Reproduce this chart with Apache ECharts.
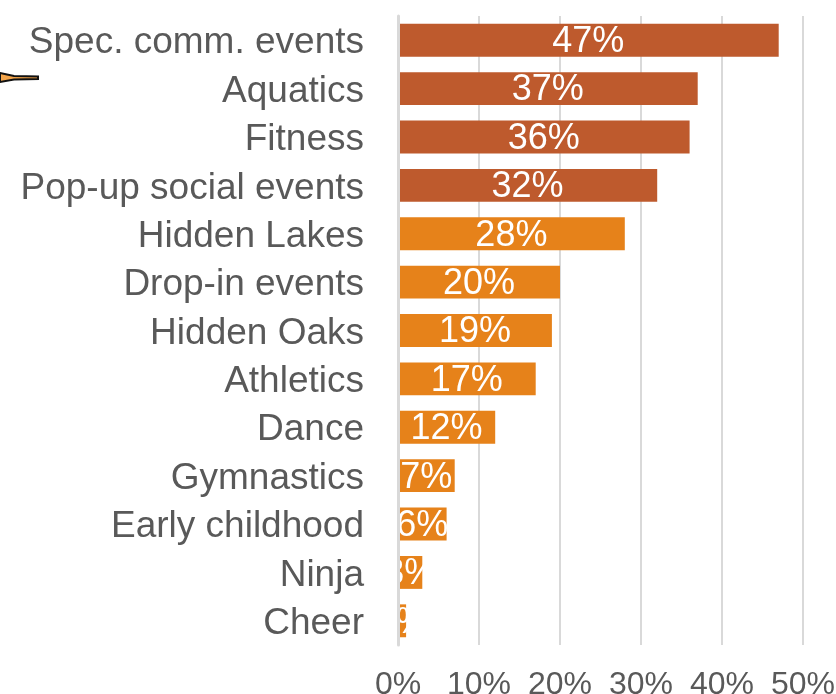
<!DOCTYPE html>
<html>
<head>
<meta charset="utf-8">
<script src="https://cdn.jsdelivr.net/npm/echarts@6/dist/echarts.min.js"></script>
<style>
  html, body { margin: 0; padding: 0; background: #ffffff; }
  #chart { width: 836px; height: 694px; }
</style>
</head>
<body>
<div id="chart"></div>
<script>
// Program participation, top to bottom
const categories = [
  'Spec. comm. events', 'Aquatics', 'Fitness', 'Pop-up social events',
  'Hidden Lakes', 'Drop-in events', 'Hidden Oaks', 'Athletics',
  'Dance', 'Gymnastics', 'Early childhood', 'Ninja', 'Cheer'
];
const values = [47, 37, 36, 32, 28, 20, 19, 17, 12, 7, 6, 3, 1];
// first four programs are highlighted in the darker tone
const highlighted = [true, true, true, true, false, false, false, false, false, false, false, false, false];
const xTicks = [0, 10, 20, 30, 40, 50];

const DARK = '#BE5A2D';
const ORANGE = '#E6821A';
const FONT = '"Liberation Sans", Arial, sans-serif';

const chart = echarts.init(document.getElementById('chart'), null, { renderer: 'canvas' });

chart.setOption({
  animation: false,
  backgroundColor: '#ffffff',
  grid: {
    left: 398, right: 33, top: 16, bottom: 49,
    containLabel: false,
    outerBoundsMode: 'none'
  },
  xAxis: {
    type: 'value',
    min: xTicks[0],
    max: xTicks[xTicks.length - 1],
    interval: 10,
    axisLine: { show: false },
    axisTick: { show: false },
    splitLine: { show: true, lineStyle: { color: '#d9d9d9', width: 2 } },
    axisLabel: {
      margin: 24,
      color: '#595959',
      fontSize: 32,
      fontFamily: FONT,
      formatter: v => v + '%'
    }
  },
  yAxis: {
    type: 'category',
    inverse: true,
    data: categories,
    z: 10,
    axisLine: { show: true, lineStyle: { color: '#d9d9d9', width: 3 } },
    axisTick: { show: false },
    axisLabel: {
      margin: 34,
      formatter: v => '{t|' + v + '}',
      rich: {
        t: {
          color: '#595959',
          fontSize: 37,
          fontFamily: FONT,
          padding: [6, 0, 0, 0]
        }
      }
    }
  },
  series: [{
    type: 'bar',
    barCategoryGap: '32%',
    data: values.map((v, i) => ({
      value: v,
      itemStyle: { color: highlighted[i] ? DARK : ORANGE }
    })),
    label: {
      show: true,
      position: 'inside',
      offset: [0, 2],
      color: '#ffffff',
      fontSize: 36,
      fontFamily: FONT,
      formatter: p => p.value + '%'
    }
  }],
  graphic: [{
    // pointer tip entering from the left edge
    type: 'polygon',
    shape: { points: [[0, 73], [14, 76], [38, 76.5], [38, 79], [14, 79.5], [0, 82]] },
    style: { fill: '#F5A54A', stroke: '#111111', lineWidth: 2 }
  }]
});
</script>
</body>
</html>
